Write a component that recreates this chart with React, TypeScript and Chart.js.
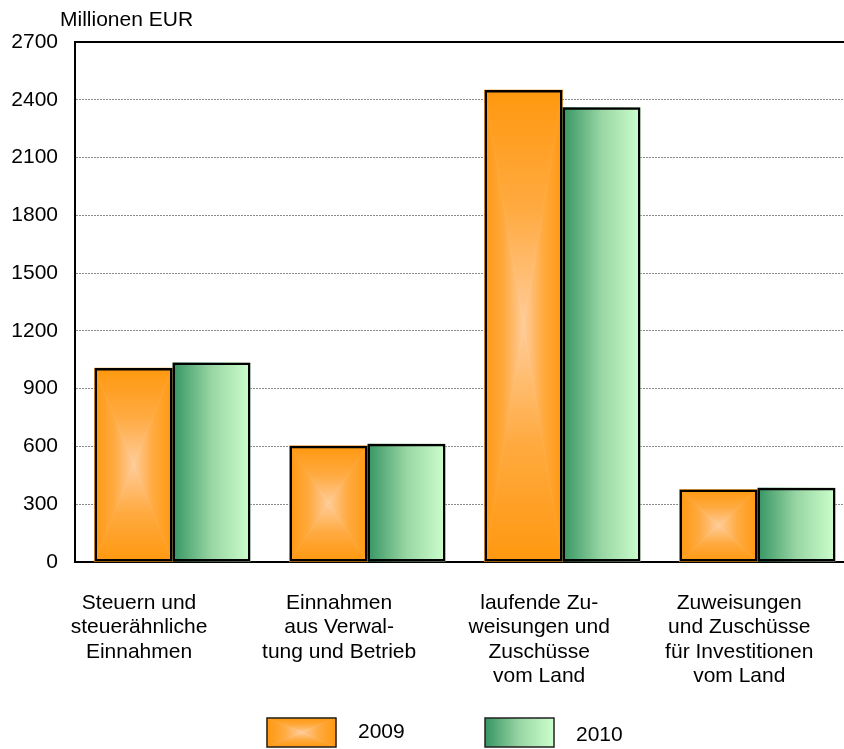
import React, { useEffect, useRef } from "react";
import { Chart, registerables } from "chart.js";

Chart.register(...registerables);

const categories: string[][] = [
  ["Steuern und", "steuerähnliche", "Einnahmen"],
  ["Einnahmen", "aus Verwal-", "tung und Betrieb"],
  ["laufende Zu-", "weisungen und", "Zuschüsse", "vom Land"],
  ["Zuweisungen", "und Zuschüsse", "für Investitionen", "vom Land"],
];
const seriesNames = ["2009", "2010"];
const values2009 = [1007, 603, 2451, 376];
const values2010 = [1036, 614, 2361, 386];
const yMin = 0;
const yMax = 2700;
const yStep = 300;
const unitLabel = "Millionen EUR";

const FONT = "'Liberation Sans', Arial, sans-serif";
const FONT_SIZE = 21;

function fillOrange(ctx: CanvasRenderingContext2D, l: number, t: number, r: number, b: number) {
  const cx = (l + r) / 2;
  const cy = (t + b) / 2;
  const edge = "#FF980F";
  const mid = "#FFAA40";
  const center = "#FFCC99";
  const tris: [number, number, number, number, number, number, number, number][] = [
    [l, t, r, t, cx, t, cx, cy],
    [r, t, r, b, r, cy, cx, cy],
    [r, b, l, b, cx, b, cx, cy],
    [l, b, l, t, l, cy, cx, cy],
  ];
  for (const tr of tris) {
    const g = ctx.createLinearGradient(tr[4], tr[5], tr[6], tr[7]);
    g.addColorStop(0, edge);
    g.addColorStop(0.5, mid);
    g.addColorStop(1, center);
    ctx.beginPath();
    ctx.moveTo(tr[0], tr[1]);
    ctx.lineTo(tr[2], tr[3]);
    ctx.lineTo(cx, cy);
    ctx.closePath();
    ctx.fillStyle = g;
    ctx.fill();
    ctx.strokeStyle = g;
    ctx.lineWidth = 0.6;
    ctx.stroke();
  }
}

function fillGreen(ctx: CanvasRenderingContext2D, l: number, t: number, r: number, b: number) {
  const g = ctx.createLinearGradient(l, 0, r, 0);
  g.addColorStop(0, "#359562");
  g.addColorStop(0.5, "#98D6A4");
  g.addColorStop(1, "#CCFFCC");
  ctx.fillStyle = g;
  ctx.fillRect(l, t, r - l, b - t);
}

const fillers = [fillOrange, fillGreen];

const gradientPlugin = {
  id: "gradientBars",
  beforeDatasetsDraw(chart: any) {
    const ctx = chart.ctx as CanvasRenderingContext2D;
    ctx.save();
    chart.data.datasets.forEach((_: any, di: number) => {
      const meta = chart.getDatasetMeta(di);
      meta.data.forEach((el: any) => {
        const p = el.getProps(["x", "y", "base", "width"], true);
        const l = p.x - p.width / 2;
        const r = p.x + p.width / 2;
        const t = Math.min(p.y, p.base);
        const b = Math.max(p.y, p.base);
        fillers[di](ctx, l, t, r, b);
      });
    });
    ctx.restore();
  },
};

const decorPlugin = {
  id: "decor",
  afterDraw(chart: any) {
    const ctx = chart.ctx as CanvasRenderingContext2D;
    const area = chart.chartArea;
    ctx.save();
    ctx.strokeStyle = "#000";
    ctx.lineWidth = 2;
    ctx.beginPath();
    ctx.moveTo(area.left - 1, area.top);
    ctx.lineTo(area.right, area.top);
    ctx.stroke();

    ctx.fillStyle = "#000";
    ctx.font = `${FONT_SIZE}px ${FONT}`;
    ctx.textBaseline = "middle";
    ctx.textAlign = "left";
    ctx.fillText(unitLabel, 60, 20);

    const xs = chart.scales.x;
    ctx.font = `${FONT_SIZE}px ${FONT}`;
    ctx.textAlign = "center";
    categories.forEach((lines, i) => {
      const px = xs.getPixelForValue(i);
      const cx = area.left + (px - area.left) * 1.026 - 36;
      lines.forEach((line, j) => {
        ctx.fillText(line, cx, area.bottom + 41 + j * 24.5);
      });
    });

    const boxW = 69;
    const boxH = 29;
    const legendLeft = 267;
    const legendGap = 218;
    const boxTop = 718;
    seriesNames.forEach((name, i) => {
      const bx = legendLeft + i * legendGap;
      fillers[i](ctx, bx, boxTop, bx + boxW, boxTop + boxH);
      ctx.strokeStyle = "#222";
      ctx.lineWidth = 1.5;
      ctx.strokeRect(bx, boxTop, boxW, boxH);
      ctx.fillStyle = "#000";
      ctx.font = `${FONT_SIZE}px ${FONT}`;
      ctx.textAlign = "left";
      ctx.textBaseline = "middle";
      ctx.fillText(name, bx + boxW + 22, boxTop + boxH / 2 + i * 3);
    });
    ctx.restore();
  },
};

export default function App() {
  const ref = useRef<HTMLCanvasElement | null>(null);
  useEffect(() => {
    if (!ref.current) return;
    const mkDataset = (label: string, data: number[]) => ({
      label,
      data,
      backgroundColor: "rgba(0,0,0,0)",
      borderColor: "#000",
      borderWidth: 2.5,
      borderSkipped: false,
      categoryPercentage: 0.8,
      barPercentage: 1,
    });
    const chart = new Chart(ref.current, {
      type: "bar",
      data: {
        labels: categories.map((c) => c.join(" ")),
        datasets: [mkDataset(seriesNames[0], values2009), mkDataset(seriesNames[1], values2010)],
      },
      options: {
        responsive: false,
        animation: false,
        devicePixelRatio: 1,
        layout: { padding: { top: 42, right: 5, left: 0, bottom: 0 } },
        plugins: {
          legend: { display: false },
          tooltip: { enabled: false },
          title: { display: false },
        },
        scales: {
          x: {
            ticks: { display: false },
            grid: { display: false, drawTicks: false },
            border: { display: true, color: "#000", width: 2 },
            afterFit: (s: any) => {
              s.height = 187;
            },
          },
          y: {
            min: yMin,
            max: yMax,
            ticks: {
              stepSize: yStep,
              color: "#000",
              padding: 17,
              font: { family: FONT, size: FONT_SIZE },
              callback: (v: any) => String(v),
            },
            grid: { color: "#8a8a8a", lineWidth: 1, drawTicks: false },
            border: { display: true, color: "#000", width: 2, dash: [2, 1] },
            afterFit: (s: any) => {
              s.width = 75;
            },
          },
        },
      },
      plugins: [gradientPlugin, decorPlugin],
    });
    return () => chart.destroy();
  }, []);
  return (
    <div
      style={{
        position: "fixed",
        left: 0,
        top: 0,
        width: 844,
        height: 749,
        overflow: "hidden",
        background: "#fff",
      }}
    >
      <canvas ref={ref} width={860} height={749} style={{ display: "block" }} />
    </div>
  );
}
